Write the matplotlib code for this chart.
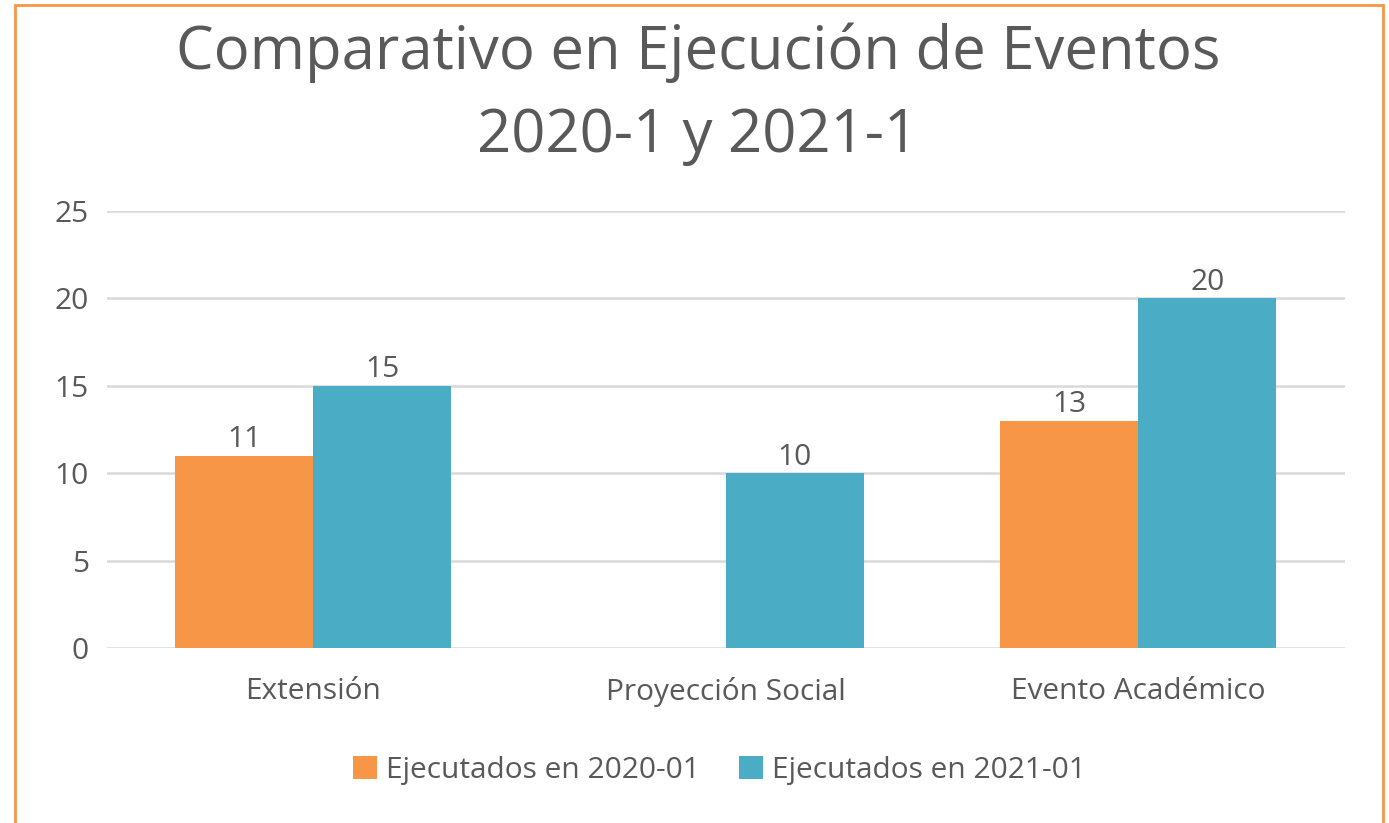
import numpy as np
import matplotlib.pyplot as plt
from matplotlib.patches import Rectangle

plt.rcParams['font.family'] = ['Open Sans', 'DejaVu Sans']

categories = ['Extensión', 'Proyección Social', 'Evento Académico']
series_names = ['Ejecutados en 2020-01', 'Ejecutados en 2021-01']
ejec_2020 = [11, 0, 13]
ejec_2021 = [15, 10, 20]
yticks = [0, 5, 10, 15, 20, 25]

orange = '#F79646'
blue = '#4BACC6'
gray_txt = '#595959'
fs = 21.5

fig = plt.figure(figsize=(13.89, 8.23), dpi=100)
ax = fig.add_axes([0.077, 0.2126, 0.891, 0.531])

x = np.arange(len(categories))
w = 0.334
b1 = ax.bar(x - w/2, ejec_2020, w, color=orange, label=series_names[0], zorder=3)
b2 = ax.bar(x + w/2, ejec_2021, w, color=blue, label=series_names[1], zorder=3)

# data labels, skip empty bars
for bars, vals in [(b1, ejec_2020), (b2, ejec_2021)]:
    for r, v in zip(bars, vals):
        if v:
            ax.annotate(str(v), (r.get_x() + r.get_width()/2, v), xytext=(0, 1),
                        textcoords='offset points', ha='center', va='bottom',
                        fontsize=fs, color=gray_txt)

ax.set_xlim(-0.5, len(categories) - 0.5)
ax.set_ylim(0, 25)
ax.set_yticks(yticks)
ax.set_xticks(x)
ax.set_xticklabels(categories)
ax.yaxis.grid(True, color='#D9D9D9', linewidth=1.8, zorder=0)
ax.tick_params(axis='both', length=0, labelsize=fs, labelcolor=gray_txt)
ax.tick_params(axis='y', pad=13)
ax.tick_params(axis='x', pad=21)
for s in ax.spines.values():
    s.set_visible(False)

fig.text(0.5025, 0.885, 'Comparativo en Ejecución de Eventos\n2020-1 y 2021-1', ha='center', va='center',
         fontsize=43, color=gray_txt, linespacing=1.5)

fig.legend(loc='center', bbox_to_anchor=(0.518, 0.064), ncol=2, frameon=False, fontsize=fs,
           labelcolor=gray_txt, handlelength=0.8, handleheight=0.8, handletextpad=0.3, columnspacing=1.3)

# orange frame around chart (bottom edge cut off)
fig.patches.append(Rectangle((15/1389, -0.05), (1383-15)/1389, 1.05 - 5/823, transform=fig.transFigure,
                             fill=False, edgecolor=orange, linewidth=2, zorder=10))

fig.savefig('out.png', dpi=100, facecolor='white')
